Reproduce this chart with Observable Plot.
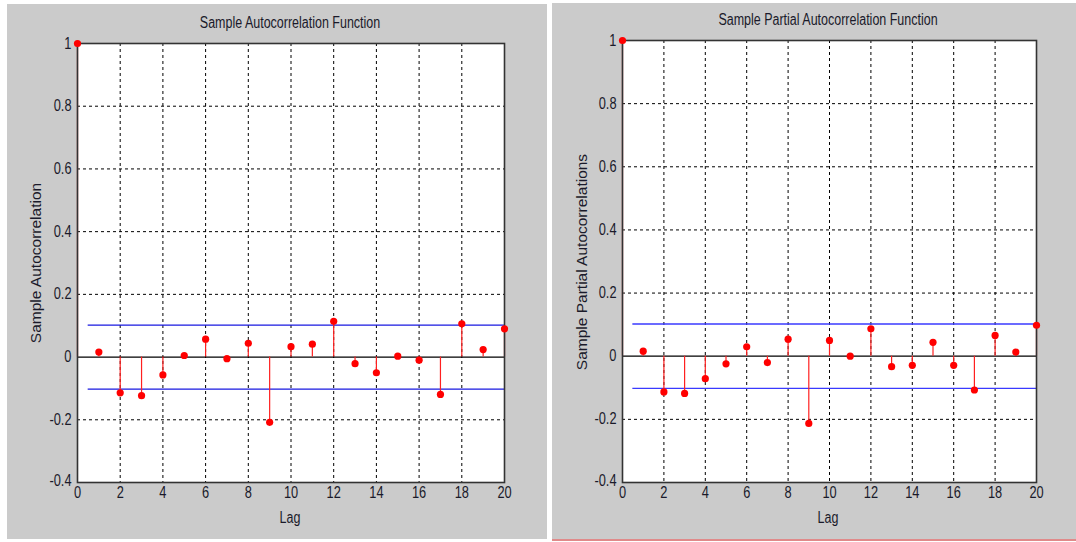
<!DOCTYPE html>
<html><head><meta charset="utf-8">
<script src="https://cdn.jsdelivr.net/npm/d3@7"></script>
<script src="https://cdn.jsdelivr.net/npm/@observablehq/plot@0.6"></script>
<style>
html,body{margin:0;padding:0;background:#fff}
body{width:1076px;height:542px;position:relative;overflow:hidden;font-family:"Liberation Sans",Arial,sans-serif;color:#1a1a2a}
.panel{position:absolute;background:#cbcbcb}
.panel svg{position:absolute;left:0;top:0;overflow:visible;background:transparent}
.lbl{position:absolute;font-size:16px;white-space:nowrap;transform:translate(-50%,-50%) scaleX(0.78)}
.rot{transform:translate(-50%,-50%) rotate(-90deg)}
</style></head>
<body>
<div id="left" class="panel" style="left:7px;top:4px;width:540px;height:535px"></div>
<div id="right" class="panel" style="left:552px;top:3px;width:524px;height:536px"></div>
<div style="position:absolute;left:552px;top:539px;width:524px;height:2px;background:#e08a8a"></div>
<div class="lbl" style="left:290px;top:23px">Sample Autocorrelation Function</div>
<div class="lbl" style="left:828px;top:20px">Sample Partial Autocorrelation Function</div>
<div class="lbl" style="left:290px;top:518px">Lag</div>
<div class="lbl" style="left:828px;top:518px">Lag</div>
<div class="lbl rot" style="left:36px;top:263px;font-size:15.5px">Sample Autocorrelation</div>
<div class="lbl rot" style="left:582px;top:262px;font-size:15.5px">Sample Partial Autocorrelations</div>
<script>
const lags = [0,1,2,3,4,5,6,7,8,9,10,11,12,13,14,15,16,17,18,19,20];
const acf = [1, 0.016, -0.114, -0.123, -0.057, 0.005, 0.057, -0.005, 0.044, -0.208, 0.033, 0.041, 0.114, -0.021, -0.05, 0.003, -0.01, -0.119, 0.106, 0.024, 0.09];
const pacf = [1, 0.016, -0.113, -0.118, -0.071, -0.024, 0.03, -0.02, 0.054, -0.213, 0.05, 0.0, 0.087, -0.033, -0.029, 0.044, -0.029, -0.107, 0.066, 0.013, 0.098];
const confBound = [0.102, -0.102];
const boundLagRange = [0.5, 20];
const xTicks = [0,2,4,6,8,10,12,14,16,18,20];
const yTicks = [-0.4,-0.2,0,0.2,0.4,0.6,0.8,1];

function panel(values, blue, w, h, m) {
  const data = lags.map((l, i) => ({lag: l, v: values[i], base: 0}));
  const bounds = confBound.map(b => ({y: b, x1: boundLagRange[0], x2: boundLagRange[1]}));
  return Plot.plot({
    width: w, height: h,
    marginLeft: m[0], marginTop: m[1], marginRight: m[2], marginBottom: m[3],
    style: {background: "transparent", fontFamily: '"Liberation Sans",Arial,sans-serif', fontSize: "16px", color: "#1a1a2a"},
    x: {domain: [0, 20]},
    y: {domain: [-0.4, 1]},
    marks: [
      Plot.frame({fill: "white", stroke: null}),
      Plot.gridX(xTicks.filter(t => t > 0 && t < 20), {stroke: "#000", strokeOpacity: 1, strokeDasharray: "3,3", strokeWidth: 1}),
      Plot.gridY(yTicks.filter(t => t !== 0 && t > -0.4 && t < 1), {stroke: "#000", strokeOpacity: 1, strokeDasharray: "3,3", strokeWidth: 1}),
      Plot.ruleY([0], {stroke: "#000", strokeWidth: 1.2}),
      Plot.ruleY(bounds, {y: "y", x1: "x1", x2: "x2", stroke: blue, strokeWidth: 1.3}),
      Plot.ruleX(data, {x: "lag", y1: "base", y2: "v", stroke: "#ff2020", strokeWidth: 1.2}),
      Plot.frame({stroke: "#333", strokeWidth: 1.6}),
      Plot.dot(data, {x: "lag", y: "v", fill: "#ff0000", stroke: "none", r: 3.6}),
      Plot.axisX(xTicks, {tickSize: 0, tickPadding: 4, fontSize: 16, tickFormat: d => String(d), label: null}),
      Plot.axisY(yTicks, {tickSize: 0, tickPadding: 6, fontSize: 16, tickFormat: d => String(d), label: null})
    ]
  });
}
function condense(svg) {
  svg.querySelectorAll('g[aria-label$="tick label"] text').forEach(t => {
    const len = t.getComputedTextLength();
    t.setAttribute("textLength", (len * 0.8).toFixed(2));
    t.setAttribute("lengthAdjust", "spacingAndGlyphs");
  });
  svg.querySelectorAll('g[aria-label="y-axis tick label"] text').forEach(t => {
    if (t.textContent === String(yTicks[0])) {
      const dy = parseFloat(t.getAttribute("dy") || "0");
      t.setAttribute("dy", "-0.1em");
    }
  });
}
const L = panel(acf, "#1818e0", 540, 535, [70, 39, 43, 57]);
const R = panel(pacf, "#3a3aff", 524, 536, [70, 37, 40, 57]);
document.getElementById("left").appendChild(L);
document.getElementById("right").appendChild(R);
condense(L); condense(R);
</script>
</body></html>
